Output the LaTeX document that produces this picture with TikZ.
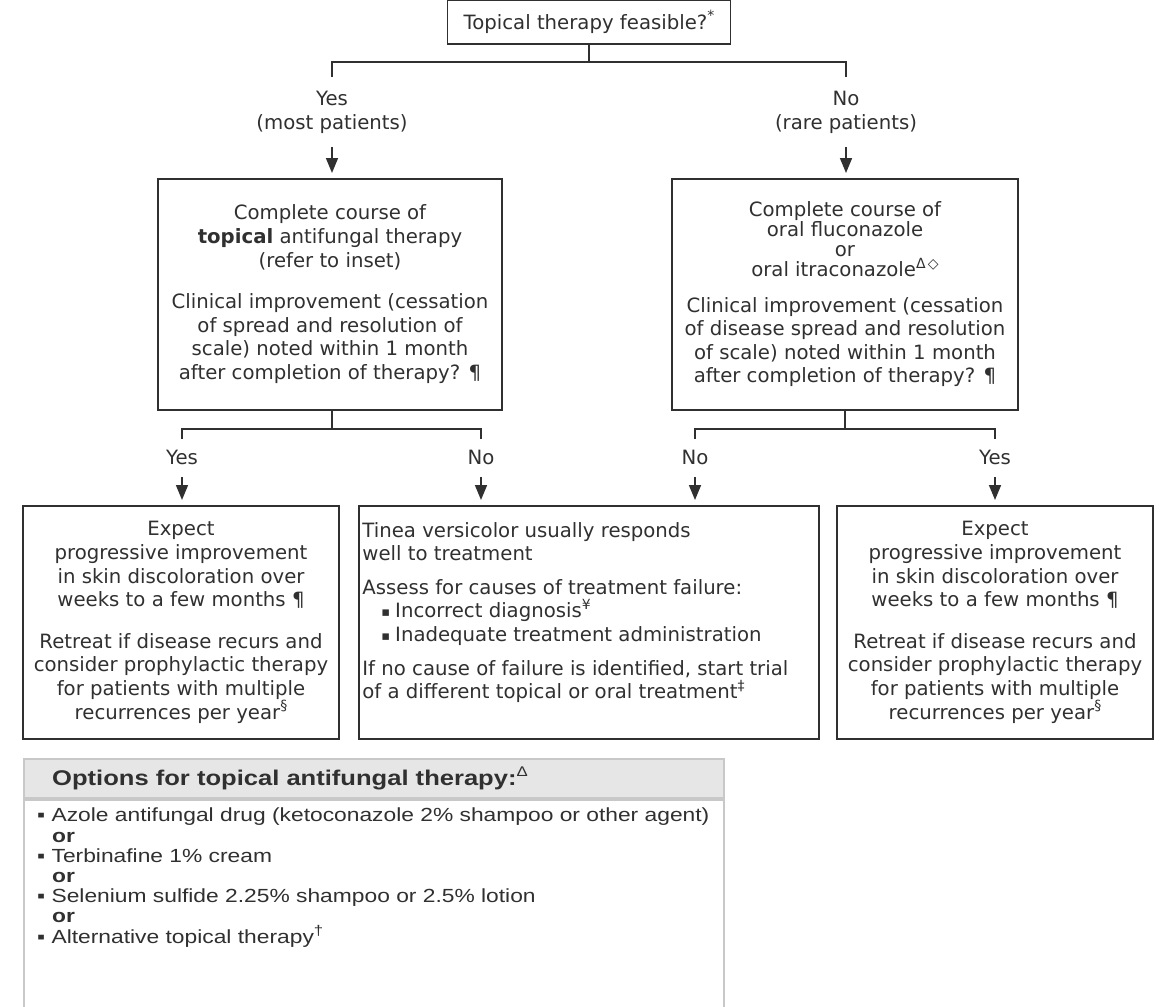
\documentclass[tikz,border=0pt]{standalone}
\usepackage{fontspec}
\setmainfont{DejaVu Sans}
\newfontfamily\insetfont[FakeStretch=1.2]{Liberation Sans}
\usepackage{xcolor}
\usepackage{tikz}
\usetikzlibrary{
    arrows.meta,
    positioning,
    calc
}
\definecolor{inkgray}{HTML}{303030}
\definecolor{insetline}{HTML}{C8C8C8}
\definecolor{insetfill}{HTML}{E6E6E6}
\newcommand{\supmark}[1]{\raisebox{0.42em}{\fontsize{14}{14}\selectfont #1}}
\newcommand{\sqbullet}{\raisebox{1.5pt}{\fontsize{13}{13}\selectfont ▪}}
\tikzset{
    flowbox/.style={
        draw=inkgray,
        line width=1.6pt,
        inner sep=0pt,
        align=center,
        text=inkgray
    }
}
\tikzset{
    branch/.style={
        inner sep=0pt,
        align=center,
        text=inkgray
    }
}
\tikzset{
    link/.style={
        draw=inkgray,
        line width=1.6pt
    }
}
\tikzset{
    flowarrow/.style={
        link,
        -{Triangle[length=15pt,width=12pt]},
        shorten >=5pt
    }
}
\tikzset{
    insetpanel/.style={
        draw=insetline,
        line width=2pt,
        inner sep=0pt
    }
}

\begin{document}
\begin{tikzpicture}[
    x=1pt, y=-1pt,
    font=\fontsize{19.7}{23.6}\selectfont
]
\useasboundingbox (0,0) rectangle (1161,1006);

% =========================================================
% Feasibility question
% =========================================================

\node[flowbox, minimum width=283pt, minimum height=44pt, anchor=north] (feasible) at (589,-1) {Topical therapy feasible?\supmark{*}};

\coordinate (splitTop) at (589,62);
\coordinate (tickYes) at (332,77);
\coordinate (tickNo) at (846,77);
\draw[link] (feasible.south) -- (splitTop);
\draw[link] (tickYes) |- (splitTop) -| (tickNo);

\node[branch, below=14pt of tickYes] (yesTop) {Yes\\(most patients)};
\node[branch, below=14pt of tickNo] (noTop) {No\\(rare patients)};


% =========================================================
% Topical / oral course
% =========================================================

\node[flowbox, minimum width=344pt, minimum height=231pt, anchor=north] (topical) at (330,178) {
    Complete course of\\
    \textbf{topical} antifungal therapy\\
    (refer to inset)\\[18pt]
    Clinical improvement (cessation\\
    of spread and resolution of\\
    scale) noted within 1 month\\
    after completion of therapy? ¶
};

\node[flowbox, minimum width=346pt, minimum height=231pt, anchor=north] (oral) at (845,178) {
    Complete course of\\[-3.6pt]
    oral fluconazole\\[-3.6pt]
    or\\[-3.6pt]
    oral itraconazole\supmark{Δ\,◇}\\[12pt]
    Clinical improvement (cessation\\
    of disease spread and resolution\\
    of scale) noted within 1 month\\
    after completion of therapy? ¶
};

\draw[flowarrow, shorten <=14pt] (yesTop.south) -- (yesTop.south |- topical.north);
\draw[flowarrow, shorten <=14pt] (noTop.south) -- (noTop.south |- oral.north);

\coordinate (splitTopical) at (332,429);
\coordinate (tickYesL) at (182,439);
\coordinate (tickNoL) at (481,439);
\draw[link] (topical.south -| splitTopical) -- (splitTopical);
\draw[link] (tickYesL) |- (splitTopical) -| (tickNoL);

\coordinate (splitOral) at (845,429);
\coordinate (tickNoR) at (695,439);
\coordinate (tickYesR) at (995,439);
\draw[link] (oral.south) -- (splitOral);
\draw[link] (tickNoR) |- (splitOral) -| (tickYesR);

\node[branch, below=11pt of tickYesL] (yesL) {Yes};
\node[branch, below=11pt of tickNoL] (noL) {No};
\node[branch, below=11pt of tickNoR] (noR) {No};
\node[branch, below=11pt of tickYesR] (yesR) {Yes};


% =========================================================
% Outcomes
% =========================================================

\node[flowbox, minimum width=316pt, minimum height=233pt, anchor=north] (expectL) at (181,505) {
    Expect\\
    progressive improvement\\
    in skin discoloration over\\
    weeks to a few months ¶\\[18pt]
    Retreat if disease recurs and\\
    consider prophylactic therapy\\
    for patients with multiple\\
    recurrences per year\supmark{§}
};

\node[flowbox, minimum width=460pt, minimum height=233pt, anchor=north] (failure) at (589,505) {};
\node[
    branch,
    align=left,
    below right=17pt and 4pt of failure.north west
] (failureText) {
    Tinea versicolor usually responds\\
    well to treatment\\[10pt]
    Assess for causes of treatment failure:\\
    \hspace*{19pt}\sqbullet\hspace{5pt}Incorrect diagnosis\supmark{¥}\\
    \hspace*{19pt}\sqbullet\hspace{5pt}Inadequate treatment administration\\[10pt]
    If no cause of failure is identified, start trial\\
    of a different topical or oral treatment\supmark{‡}
};

\node[flowbox, minimum width=316pt, minimum height=233pt, anchor=north] (expectR) at (995,505) {
    Expect\\
    progressive improvement\\
    in skin discoloration over\\
    weeks to a few months ¶\\[18pt]
    Retreat if disease recurs and\\
    consider prophylactic therapy\\
    for patients with multiple\\
    recurrences per year\supmark{§}
};

\draw[flowarrow, shorten <=12pt] (yesL.south) -- (yesL.south |- expectL.north);
\draw[flowarrow, shorten <=12pt] (noL.south) -- (noL.south |- failure.north);
\draw[flowarrow, shorten <=12pt] (noR.south) -- (noR.south |- failure.north);
\draw[flowarrow, shorten <=12pt] (yesR.south) -- (yesR.south |- expectR.north);


% =========================================================
% Inset
% =========================================================

\node[insetpanel, fill=insetfill, anchor=north west, minimum width=700pt, minimum height=39pt] (optsHead) at (23,758) {};
\node[insetpanel, fill=white, anchor=north west, minimum width=700pt, minimum height=270pt] (optsBody) at (optsHead.south west) {};

\node[
    anchor=west,
    inner sep=0pt,
    text=inkgray,
    font=\insetfont\bfseries\fontsize{21.3}{21.3}\selectfont
] (optsTitle) at ([xshift=29pt]optsHead.west) {Options for topical antifungal therapy:\supmark{\mdseries Δ}};

\node[
    anchor=north west,
    inner sep=0pt,
    align=left,
    text=inkgray,
    font=\insetfont\fontsize{19}{20.2}\selectfont
] (optsList) at ([xshift=14pt, yshift=-9pt]optsBody.north west) {
    ▪ Azole antifungal drug (ketoconazole 2\% shampoo or other agent)\\
    \hspace*{15pt}\textbf{or}\\
    ▪ Terbinafine 1\% cream\\
    \hspace*{15pt}\textbf{or}\\
    ▪ Selenium sulfide 2.25\% shampoo or 2.5\% lotion\\
    \hspace*{15pt}\textbf{or}\\
    ▪ Alternative topical therapy\supmark{†}
};

\end{tikzpicture}
\end{document}
